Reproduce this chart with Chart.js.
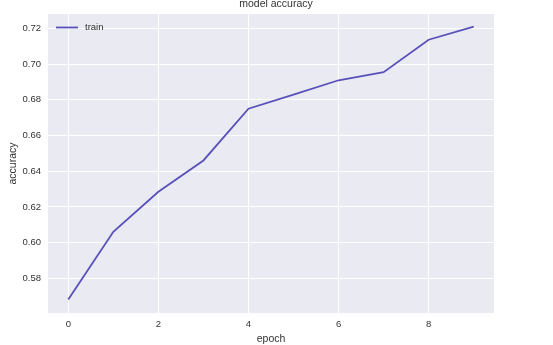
<!DOCTYPE html>
<html>
<head>
<meta charset="utf-8">
<script src="https://cdn.jsdelivr.net/npm/chart.js@4/dist/chart.umd.min.js"></script>
<style>
  html, body { margin: 0; padding: 0; background: #fff; }
  #wrap { width: 553px; height: 345px; }
</style>
</head>
<body>
<div id="wrap"><canvas id="c" width="553" height="345"></canvas></div>
<script>
// values
const epochs = [0, 1, 2, 3, 4, 5, 6, 7, 8, 9];
const trainAcc = [0.5682, 0.6061, 0.6285, 0.6460, 0.6750, 0.6829, 0.6909, 0.6954, 0.7136, 0.7209];
const xTicks = [0, 2, 4, 6, 8];
const yTicks = [0.58, 0.60, 0.62, 0.64, 0.66, 0.68, 0.70, 0.72];

const lineColor = "#5a50ba";
const textColor = "#333333";
const fontFamily = "'Liberation Sans', Arial, sans-serif";

// lavender background behind the plot area
const plotBg = {
  id: "plotBg",
  beforeDraw(chart) {
    const { ctx, chartArea: a } = chart;
    ctx.save();
    ctx.fillStyle = "#eaeaf2";
    ctx.fillRect(a.left, a.top, a.right - a.left, a.bottom - a.top);
    ctx.restore();
  },
};

// title and the small legend inside the axes, matplotlib style
const overlay = {
  id: "overlay",
  afterDraw(chart) {
    const { ctx, chartArea: a } = chart;
    ctx.save();
    ctx.fillStyle = textColor;
    ctx.font = "10.5px " + fontFamily;
    ctx.textAlign = "center";
    ctx.textBaseline = "middle";
    ctx.fillText("model accuracy", 276, 4.5);

    const ds = chart.data.datasets[0];
    ctx.strokeStyle = ds.borderColor;
    ctx.lineWidth = 1.8;
    ctx.beginPath();
    ctx.moveTo(a.left + 8, 27.5);
    ctx.lineTo(a.left + 30, 27.5);
    ctx.stroke();
    ctx.font = "9.5px " + fontFamily;
    ctx.textAlign = "left";
    ctx.fillText(ds.label, a.left + 37, 27.5);
    ctx.restore();
  },
};

new Chart(document.getElementById("c"), {
  type: "line",
  data: {
    datasets: [
      {
        label: "train",
        data: epochs.map((e, i) => ({ x: e, y: trainAcc[i] })),
        borderColor: lineColor,
        borderWidth: 1.8,
        pointRadius: 0,
        tension: 0,
        fill: false,
      },
    ],
  },
  options: {
    responsive: false,
    animation: false,
    layout: { padding: { left: 0, right: 59, top: 14, bottom: 0 } },
    plugins: { legend: { display: false }, tooltip: { enabled: false } },
    scales: {
      x: {
        type: "linear",
        min: -0.45,
        max: 9.45,
        afterBuildTicks: (s) => { s.ticks = xTicks.map((v) => ({ value: v })); },
        afterFit: (s) => { s.height = 32; },
        border: { display: false },
        grid: { color: "#ffffff", lineWidth: 1, drawTicks: false },
        ticks: {
          color: textColor,
          padding: 6,
          font: { size: 9.5, family: fontFamily },
          maxRotation: 0,
          callback: (v) => String(v),
        },
        title: {
          display: true,
          text: "epoch",
          color: textColor,
          padding: { top: 2, bottom: 0 },
          font: { size: 10.5, family: fontFamily },
        },
      },
      y: {
        min: 0.5606,
        max: 0.728,
        afterBuildTicks: (s) => { s.ticks = yTicks.map((v) => ({ value: v })); },
        afterFit: (s) => { s.width = 48; },
        border: { display: false },
        grid: { color: "#ffffff", lineWidth: 1, drawTicks: false },
        ticks: {
          color: textColor,
          padding: 7,
          font: { size: 9.5, family: fontFamily },
          callback: (v) => v.toFixed(2),
        },
        title: {
          display: true,
          text: "accuracy",
          color: textColor,
          padding: { top: 7, bottom: 0 },
          font: { size: 10.5, family: fontFamily },
        },
      },
    },
  },
  plugins: [plotBg, overlay],
});
</script>
</body>
</html>
